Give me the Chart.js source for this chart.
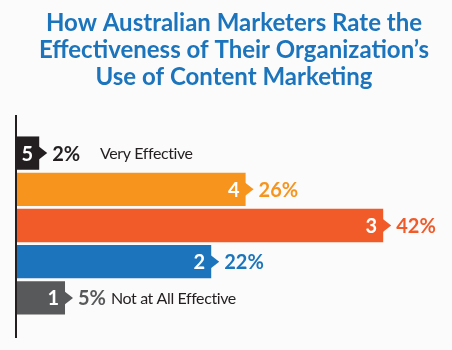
<!DOCTYPE html>
<html>
<head>
<meta charset="utf-8">
<script src="https://cdn.jsdelivr.net/npm/chart.js@4.4.1/dist/chart.umd.min.js"></script>
<style>
  html, body { margin: 0; padding: 0; background: #fbfbfb; }
  #wrap { width: 452px; height: 350px; }
</style>
</head>
<body>
<div id="wrap"><canvas id="chart"></canvas></div>
<script>
const ratings = ['5', '4', '3', '2', '1'];
const shares = [2, 26, 42, 22, 5];
const notes = ['Very Effective', '', '', '', 'Not at All Effective'];
const barColors = ['#231f20', '#f7941d', '#f15a29', '#1c75bc', '#58595b'];
const titleLines = ['How Australian Marketers Rate the', 'Effectiveness of Their Organization\u2019s', 'Use of Content Marketing'];

const FONT = 'Lato, "Noto Sans", sans-serif';

// arrow tip, rating number, percent and end notes for each bar, plus the long axis line
const arrowLabels = {
  id: 'arrowLabels',
  afterDatasetsDraw(chart) {
    const ctx = chart.ctx;
    const bars = chart.getDatasetMeta(0).data;
    ctx.save();
    bars.forEach((bar, i) => {
      const x = bar.x, y = bar.y;
      ctx.fillStyle = barColors[i];
      ctx.beginPath();
      ctx.moveTo(x - 1, y - 7);
      ctx.lineTo(x + 8, y);
      ctx.lineTo(x - 1, y + 7);
      ctx.closePath();
      ctx.fill();

      ctx.font = 'bold 20px ' + FONT;
      ctx.textBaseline = 'middle';
      ctx.textAlign = 'right';
      ctx.fillStyle = '#fff';
      ctx.fillText(ratings[i], x - 6, y + 1);

      ctx.textAlign = 'left';
      ctx.fillStyle = barColors[i];
      const pct = shares[i] + '%';
      ctx.fillText(pct, x + 13, y + 1);
      const pctEnd = x + 13 + ctx.measureText(pct).width;

      if (notes[i]) {
        ctx.font = '16px ' + FONT;
        ctx.letterSpacing = '-0.4px';
        ctx.fillStyle = '#231f20';
        ctx.fillText(notes[i], Math.max(100, pctEnd + 5), y + 1);
        ctx.letterSpacing = '0px';
      }
    });

    const area = chart.chartArea;
    ctx.strokeStyle = '#231f20';
    ctx.lineWidth = 2;
    ctx.beginPath();
    ctx.moveTo(area.left, area.top - 20);
    ctx.lineTo(area.left, area.bottom + 22);
    ctx.stroke();
    ctx.restore();
  }
};

new Chart(document.getElementById('chart'), {
  type: 'bar',
  data: {
    labels: ratings,
    datasets: [{
      data: shares,
      base: -0.7,
      backgroundColor: barColors,
      borderWidth: 0,
      barPercentage: 0.92,
      categoryPercentage: 1
    }]
  },
  options: {
    indexAxis: 'y',
    responsive: true,
    maintainAspectRatio: false,
    animation: false,
    layout: { padding: { left: 16, right: 0, top: 0, bottom: 34 } },
    scales: {
      x: { min: -0.7, max: 50, display: false },
      y: { display: false }
    },
    plugins: {
      legend: { display: false },
      tooltip: { enabled: false },
      title: {
        display: true,
        text: titleLines,
        color: '#1c75bc',
        font: { family: FONT, size: 24, weight: 'bold', lineHeight: 27 / 24 },
        padding: { top: 10, bottom: 44 }
      }
    }
  },
  plugins: [arrowLabels]
});
</script>
</body>
</html>
